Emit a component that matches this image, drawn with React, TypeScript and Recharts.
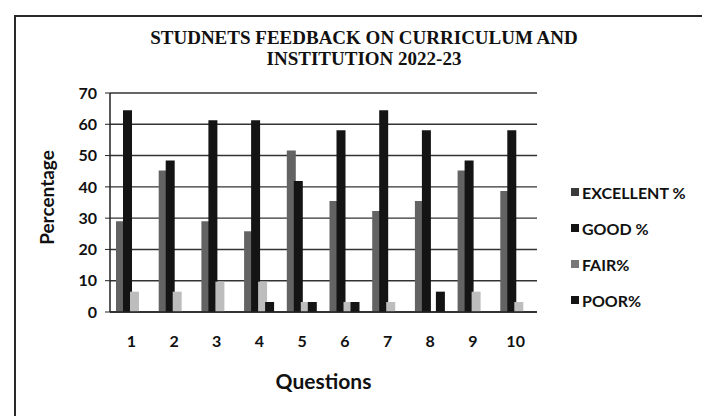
import { Bar, BarChart, CartesianGrid, XAxis, YAxis } from "recharts";

const QUESTIONS = ["1", "2", "3", "4", "5", "6", "7", "8", "9", "10"];
const EXCELLENT = [29.0, 45.2, 29.0, 25.8, 51.6, 35.5, 32.3, 35.5, 45.2, 38.7];
const GOOD = [64.5, 48.4, 61.3, 61.3, 41.9, 58.1, 64.5, 58.1, 48.4, 58.1];
const FAIR = [6.5, 6.5, 9.7, 9.7, 3.2, 3.2, 3.2, 0, 6.5, 3.2];
const POOR = [0, 0, 0, 3.2, 3.2, 3.2, 0, 6.5, 0, 0];
const Y_TICKS = [0, 10, 20, 30, 40, 50, 60, 70];

const SERIES = [
  { key: "excellent", name: "EXCELLENT %", fill: "#636363", swatch: "#3a3a3a" },
  { key: "good", name: "GOOD %", fill: "#141414", swatch: "#141414" },
  { key: "fair", name: "FAIR%", fill: "#bdbdbd", swatch: "#777777" },
  { key: "poor", name: "POOR%", fill: "#141414", swatch: "#141414" },
];

const data = QUESTIONS.map((q, i) => ({
  q,
  excellent: EXCELLENT[i],
  good: GOOD[i],
  fair: FAIR[i],
  poor: POOR[i],
}));

const FONT = "Lato, 'Open Sans', sans-serif";

export default function App() {
  return (
    <div style={{ position: "absolute", left: 0, top: 0, width: 702, height: 416, background: "#fff", overflow: "hidden" }}>
      {/* scanned frame */}
      <div style={{ position: "absolute", left: 14, top: 15, width: 700, height: 420, borderTop: "2px solid #2a2a2a", borderLeft: "2px solid #2a2a2a" }} />
      <div
        style={{
          position: "absolute",
          left: 114,
          width: 500,
          top: 27,
          textAlign: "center",
          fontFamily: "'Liberation Serif', 'Times New Roman', serif",
          fontWeight: 700,
          fontSize: 19,
          lineHeight: "21px",
          color: "#111",
        }}
      >
        STUDNETS FEEDBACK ON CURRICULUM AND
        <br />
        INSTITUTION 2022-23
      </div>
      <BarChart
        width={702}
        height={416}
        data={data}
        margin={{ top: 93, right: 165, bottom: 34, left: 30 }}
        barSize={9}
        barGap={-2}
      >
        <CartesianGrid vertical={false} stroke="#333" strokeWidth={1.4} />
        <XAxis
          dataKey="q"
          height={70}
          axisLine={{ stroke: "#222", strokeWidth: 1.5 }}
          tickLine={false}
          tickMargin={18}
          tick={{ fontFamily: FONT, fontSize: 16, fontWeight: 700, fill: "#111" }}
          label={{
            content: ({ viewBox }: any) => (
              <text
                x={viewBox.x + viewBox.width / 2}
                y={viewBox.y + 77}
                textAnchor="middle"
                fontFamily={FONT}
                fontSize={21}
                fontWeight={700}
                fill="#111"
              >
                Questions
              </text>
            ),
          }}
        />
        <YAxis
          width={80}
          domain={[0, 70]}
          ticks={Y_TICKS}
          interval={0}
          axisLine={{ stroke: "#222", strokeWidth: 1.5 }}
          tickLine={{ stroke: "#222" }}
          tickSize={5}
          tickMargin={8}
          tick={{ fontFamily: FONT, fontSize: 16, fontWeight: 700, fill: "#111" }}
          label={{
            content: ({ viewBox }: any) => {
              const x = 49;
              const y = viewBox.y + viewBox.height / 2 - 5;
              return (
                <text
                  x={x}
                  y={y}
                  transform={`rotate(-90 ${x} ${y})`}
                  textAnchor="middle"
                  dominantBaseline="middle"
                  fontFamily={FONT}
                  fontSize={19}
                  fontWeight={700}
                  fill="#111"
                >
                  Percentage
                </text>
              );
            },
          }}
        />
        {SERIES.map((s) => (
          <Bar key={s.key} dataKey={s.key} name={s.name} fill={s.fill} isAnimationActive={false} />
        ))}
      </BarChart>
      <div style={{ position: "absolute", left: 571, top: 174 }}>
        {SERIES.map((s) => (
          <div
            key={s.key}
            style={{
              display: "flex",
              alignItems: "center",
              height: 36,
              fontFamily: FONT,
              fontSize: 16,
              fontWeight: 700,
              color: "#111",
            }}
          >
            <span style={{ display: "inline-block", width: 8, height: 8, background: s.swatch, marginRight: 3 }} />
            {s.name}
          </div>
        ))}
      </div>
    </div>
  );
}
